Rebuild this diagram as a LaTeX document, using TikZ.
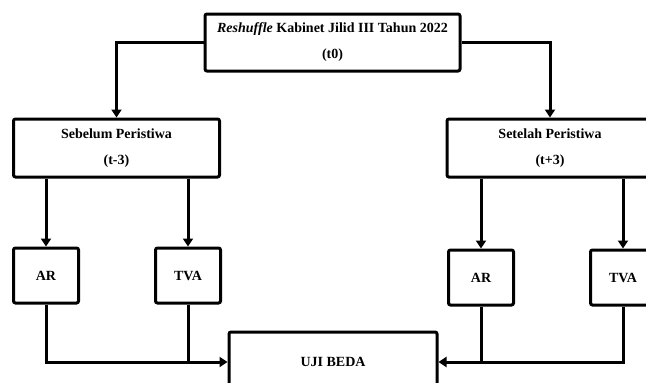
\documentclass[tikz,border=0pt]{standalone}
\usepackage{fontspec}
\setmainfont{Liberation Serif}
\usetikzlibrary{arrows.meta}

\begin{document}
\begin{tikzpicture}[
   x=1pt, y=-1pt,
   kotak/.style={draw, line width=3pt, rounded corners=2pt, align=center,
                 inner sep=0pt, font=\bfseries\fontsize{14}{26}\selectfont},
   besar/.style={kotak, minimum width=206pt, minimum height=58pt},
   kecil/.style={kotak, minimum width=65pt, minimum height=55pt},
   panah/.style={line width=3pt, -{Triangle[length=8pt,width=10pt]}},
   garis/.style={line width=3pt}]

\useasboundingbox (0,0) rectangle (646,383);

\node[kotak, minimum width=255pt, minimum height=57pt] (t0) at (332.5,42.5)
    {\textit{Reshuffle} Kabinet Jilid III Tahun 2022\\(t0)};
\node[besar] (sebelum) at (116.5,148) {Sebelum Peristiwa\\(t-3)};
\node[besar] (setelah) at (550,148) {Setelah Peristiwa\\(t+3)};
\node[kecil] (ar1) at (46,275.5) {AR};
\node[kecil] (tva1) at (188,275.5) {TVA};
\node[kecil] (ar2) at (481,277.5) {AR};
\node[kecil] (tva2) at (623,277.5) {TVA};
\node[kotak, minimum width=208pt, minimum height=60pt] (uji) at (333,362) {UJI BEDA};

\draw[panah] (t0.west) -| (sebelum.north);
\draw[panah] (t0.east) -| (setelah.north);
\draw[panah] (ar1.north |- sebelum.south) -- (ar1.north);
\draw[panah] (tva1.north |- sebelum.south) -- (tva1.north);
\draw[panah] (ar2.north |- setelah.south) -- (ar2.north);
\draw[panah] (tva2.north |- setelah.south) -- (tva2.north);
\draw[panah] (ar1.south) |- (uji.west);
\draw[garis] (tva1.south) -- (tva1.south |- uji.west);
\draw[panah] (tva2.south) |- (uji.east);
\draw[garis] (ar2.south) -- (ar2.south |- uji.east);

\end{tikzpicture}
\end{document}
